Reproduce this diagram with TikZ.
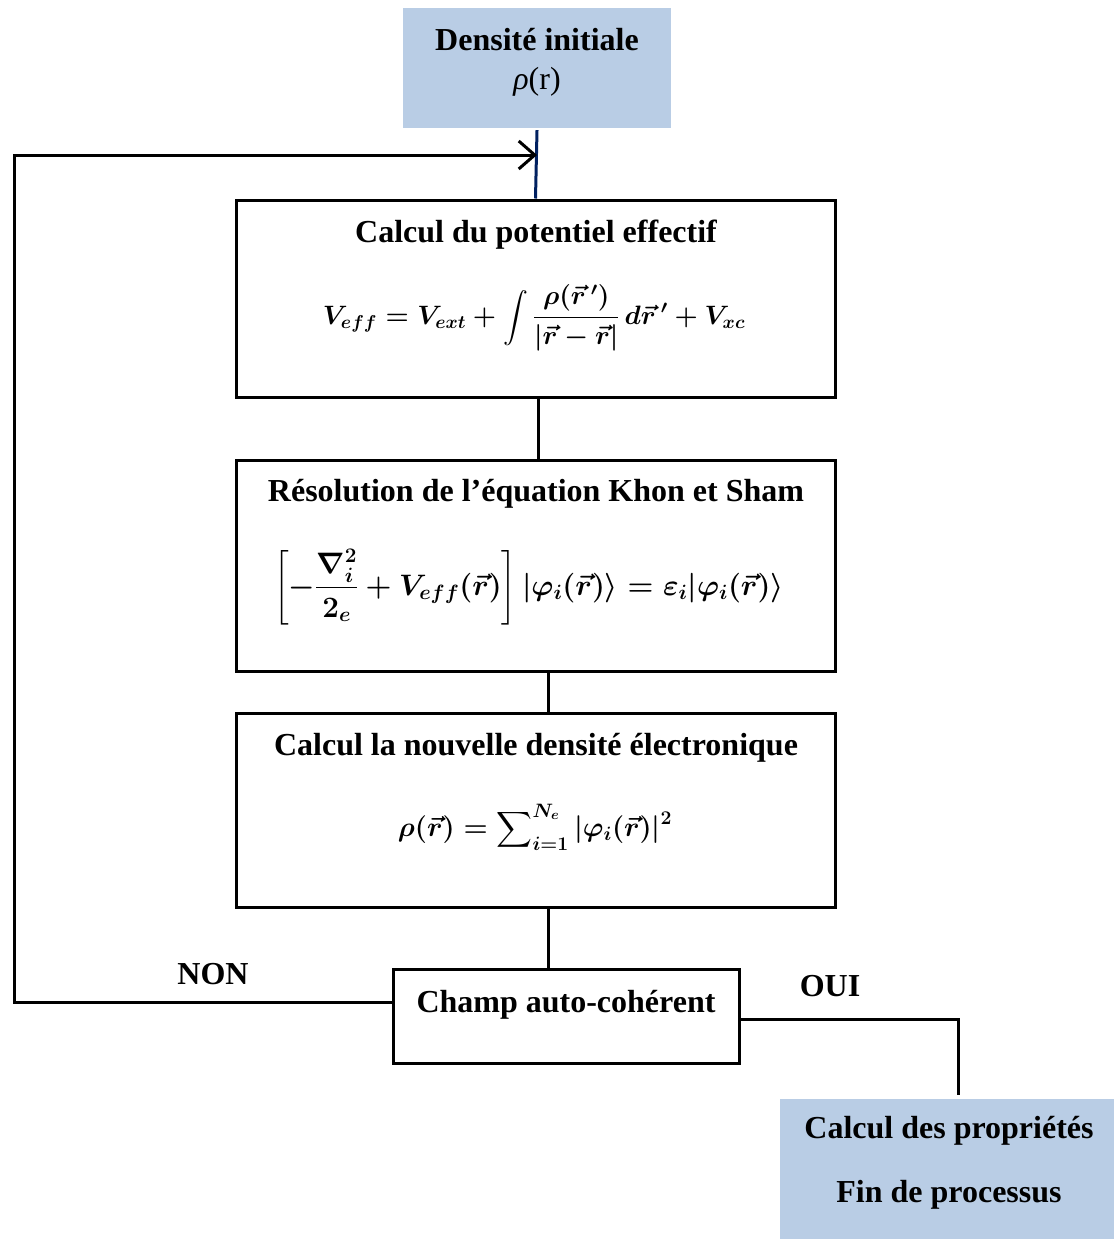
\RequirePackage{fix-cm}
\documentclass[tikz,border=0pt]{standalone}
\usepackage{amsmath,bm}
\usepackage{fontspec}
\setmainfont{Liberation Serif}
\usetikzlibrary{arrows.meta}
\definecolor{lightblue}{HTML}{B9CDE5}
\definecolor{navy}{RGB}{0,32,96}
\tikzset{
  stepbox/.style={draw=black, line width=3pt, rectangle, inner sep=0pt},
  bluebox/.style={fill=lightblue, rectangle, inner sep=0pt},
  txt/.style={font=\fontsize{32}{37}\selectfont\bfseries, inner sep=0pt},
  frm/.style={font=\fontsize{26.6}{31}\selectfont\boldmath, inner sep=0pt},
  link/.style={line width=3pt, draw=black},
  tip/.style={-{Straight Barb[length=16pt,width=28pt,line width=3pt]}}
}
\begin{document}
\begin{tikzpicture}[x=1pt,y=-1pt]
\useasboundingbox (0,0) rectangle (1114,1239);
% boxes
\node[bluebox, minimum width=268pt, minimum height=120pt] (init) at (537,68) {};
\node[txt] (initT) at (537,40) {Densité initiale};
\node[font=\fontsize{32}{37}\selectfont, inner sep=0pt] (initR) at (537,82) {\textit{ρ}(r)};

\node[stepbox, minimum width=599pt, minimum height=197pt] (b1) at (535.5,298.5) {};
\node[txt] (b1T) at (536,235) {Calcul du potentiel effectif};
\node[frm] (b1F) at (534,318) {$V_{eff}=V_{ext}+\displaystyle\int\frac{\rho(\vec{r}\,')}{|\vec{r}-\vec{r}|}\,d\vec{r}\,'+V_{xc}$};

\node[stepbox, minimum width=599pt, minimum height=211pt] (b2) at (535.5,565.5) {};
\node[txt] (b2T) at (536,494) {Résolution de l’équation Khon et Sham};
\node[frm, font=\fontsize{29.6}{35}\selectfont\boldmath] (b2F) at (529,587) {$\displaystyle\left[-\frac{\nabla_i^2}{2_e}+V_{eff}(\vec{r})\right]|\varphi_i(\vec{r})\rangle=\varepsilon_i|\varphi_i(\vec{r})\rangle$};

\node[stepbox, minimum width=599pt, minimum height=194pt] (b3) at (535.5,810) {};
\node[txt] (b3T) at (536,748) {Calcul la nouvelle densité électronique};
\node[frm, font=\fontsize{27.7}{32}\selectfont\boldmath] (b3F) at (535,827) {$\rho(\vec{r})=\displaystyle\sum\nolimits_{i=1}^{N_e}|\varphi_i(\vec{r})|^2$};

\node[stepbox, minimum width=346pt, minimum height=94pt] (b4) at (566,1016) {};
\node[txt] (b4T) at (566,1005) {Champ auto-cohérent};

\node[bluebox, minimum width=334pt, minimum height=141pt] (fin) at (947,1169.5) {};
\node[txt] (finT1) at (949,1131) {Calcul des propriétés};
\node[txt] (finT2) at (949,1195) {Fin de processus};

\node[txt] (non) at (213,974) {NON};
\node[txt] (oui) at (830,986) {OUI};

% connectors
\coordinate (m) at (537,155);
\coordinate (lc) at (14,155);
\draw[line width=3pt, draw=navy] ([yshift=-2pt]init.south) -- (b1.north);
\draw[link] ([xshift=2.5pt]b1.south) -- ([xshift=2.5pt]b2.north);
\draw[link] ([xshift=12.5pt]b2.south) -- ([xshift=12.5pt]b3.north);
\draw[link] ([xshift=12.5pt]b3.south) -- ([xshift=-18pt]b4.north);
\draw[link, tip] ([yshift=14pt]b4.west) -| (lc) -- (m);
\draw[link] ([yshift=-3pt]b4.east) -| ([xshift=11pt,yshift=4pt]fin.north);
\end{tikzpicture}
\end{document}
